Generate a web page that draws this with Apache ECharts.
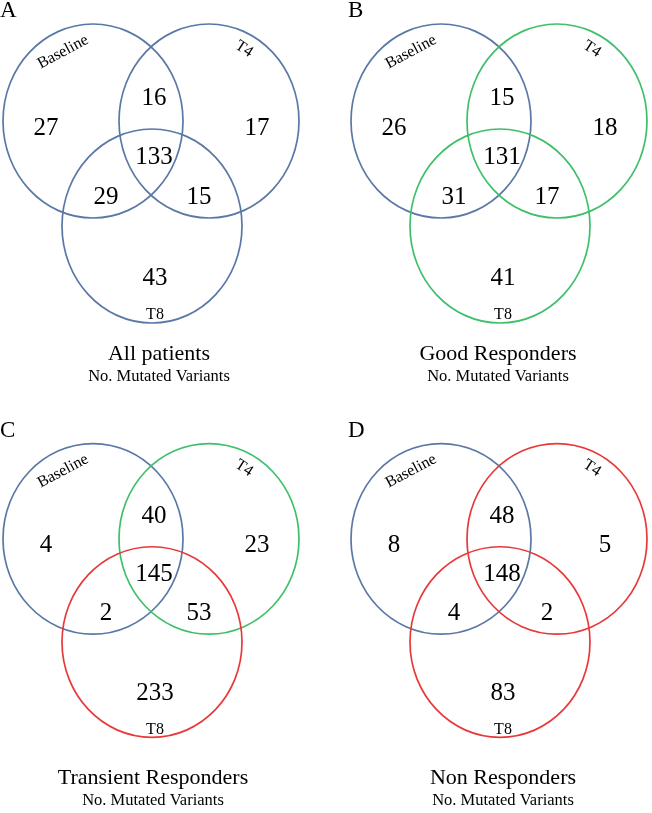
<!DOCTYPE html>
<html><head><meta charset="utf-8">
<script src="https://cdn.jsdelivr.net/npm/echarts@6/dist/echarts.min.js"></script>
<style>html,body{margin:0;padding:0;background:#fff}#c{width:652px;height:813px}</style>
</head><body><div id="c"></div>
<script>
// ---------- data ----------
const panelLetters = ['A', 'B', 'C', 'D'];
const panelTitles = ['All patients', 'Good Responders', 'Transient Responders', 'Non Responders'];
const panelSubtitle = 'No. Mutated Variants';
const setNames = ['Baseline', 'T4', 'T8'];
// region order: Baseline only, Baseline∩T4, T4 only, all three, Baseline∩T8, T4∩T8, T8 only
const countsA = [27, 16, 17, 133, 29, 15, 43];
const countsB = [26, 15, 18, 131, 31, 17, 41];
const countsC = [4, 40, 23, 145, 2, 53, 233];
const countsD = [8, 48, 5, 148, 4, 2, 83];
// response group of each set circle (Baseline, T4, T8)
const groupsA = ['all', 'all', 'all'];
const groupsB = ['all', 'good', 'good'];
const groupsC = ['all', 'good', 'non'];
const groupsD = ['all', 'non', 'non'];

// ---------- layout / style ----------
const COLORS = { all: '#5a78a6', good: '#3fbf6a', non: '#e8393a' };
const FONT = '"Liberation Serif", "Times New Roman", serif';
const ORIGINS = [[0, 0], [348, 0], [0, 420], [348, 420]];
const GRID_W = 300, GRID_H = 400;
const CIRCLE_CENTERS = [[93, 121], [209, 121], [152, 226]];
const RX = 90, RY = 97;
const REGION_POS = [[46, 128], [154, 98], [257, 128], [154, 157], [106, 197], [199, 197], [155, 278]];
const SETLABEL_POS = [[63, 52, 28], [244, 49, -33], [155, 315, 0]];
const TITLE_X = [159, 150, 153, 155];
const TITLE_DY = [0, 0, 4, 4];
const TITLE_TOP = 343, SUB_TOP = 368;

const allCounts = [countsA, countsB, countsC, countsD];
const allGroups = [groupsA, groupsB, groupsC, groupsD];

const grid = [], xAxis = [], yAxis = [], series = [], title = [];
ORIGINS.forEach((o, i) => {
  grid.push({ left: o[0], top: o[1], width: GRID_W, height: GRID_H, containLabel: false });
  xAxis.push({ gridIndex: i, type: 'value', min: 0, max: GRID_W, show: false });
  yAxis.push({ gridIndex: i, type: 'value', min: 0, max: GRID_H, inverse: true, show: false });

  series.push({
    type: 'custom', xAxisIndex: i, yAxisIndex: i, clip: false, silent: true,
    data: CIRCLE_CENTERS.map((c, k) => ({ value: [c[0], c[1]], itemStyle: { color: COLORS[allGroups[i][k]] } })),
    renderItem: (params, api) => {
      const p = api.coord([api.value(0), api.value(1)]);
      const s = api.size([RX, RY]);
      return { type: 'ellipse', shape: { cx: p[0], cy: p[1], rx: s[0], ry: s[1] },
        style: { fill: 'none', stroke: api.visual('color'), lineWidth: 1.7 } };
    }
  });

  series.push({
    type: 'custom', xAxisIndex: i, yAxisIndex: i, clip: false, silent: true,
    data: REGION_POS.map((p, k) => [p[0], p[1], allCounts[i][k]]),
    renderItem: (params, api) => {
      const p = api.coord([api.value(0), api.value(1)]);
      return { type: 'text', x: p[0], y: p[1],
        style: { text: String(api.value(2)), font: '25px ' + FONT, fill: '#000', align: 'center', verticalAlign: 'middle' } };
    }
  });

  series.push({
    type: 'custom', xAxisIndex: i, yAxisIndex: i, clip: false, silent: true,
    data: SETLABEL_POS.map((p, k) => [p[0], p[1], p[2], k]),
    renderItem: (params, api) => {
      const p = api.coord([api.value(0), api.value(1)]);
      return { type: 'text', x: p[0], y: p[1], rotation: api.value(2) * Math.PI / 180,
        style: { text: setNames[api.value(3)], font: '16px ' + FONT, fill: '#000', align: 'center', verticalAlign: 'middle' } };
    }
  });

  title.push({
    text: panelTitles[i], subtext: panelSubtitle,
    left: o[0] + TITLE_X[i], top: o[1] + TITLE_TOP + TITLE_DY[i], textAlign: 'center', padding: 0, itemGap: SUB_TOP - TITLE_TOP - 23,
    textStyle: { fontFamily: FONT, fontSize: 22, fontWeight: 'normal', color: '#000', lineHeight: 23 },
    subtextStyle: { fontFamily: FONT, fontSize: 16.5, color: '#000', lineHeight: 18 }
  });
  title.push({
    text: panelLetters[i], left: o[0], top: o[1] - 1, padding: 0,
    textStyle: { fontFamily: FONT, fontSize: 23, fontWeight: 'normal', color: '#000', lineHeight: 24 }
  });
});

const chart = echarts.init(document.getElementById('c'), null, { renderer: 'canvas' });
chart.setOption({ animation: false, backgroundColor: '#fff', title, grid, xAxis, yAxis, series });
</script></body></html>
